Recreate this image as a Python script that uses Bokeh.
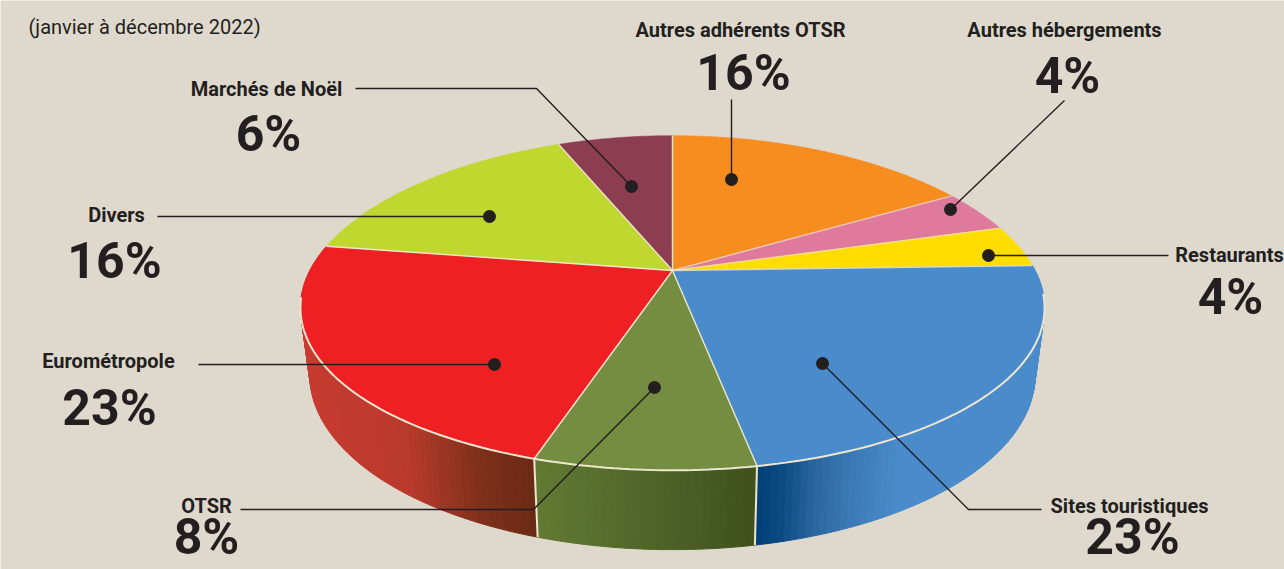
import numpy as np
from bokeh.plotting import figure
from bokeh.models import Range1d
from bokeh.core.properties import value
from bokeh.embed import file_html
from bokeh.resources import INLINE

# --- data
categories = ["Autres adhérents OTSR", "Autres hébergements", "Restaurants", "Sites touristiques",
              "OTSR", "Eurométropole", "Divers", "Marchés de Noël"]
shares = [16, 4, 4, 23, 8, 23, 16, 6]
top_colors = ["#f78d1e", "#df7a9c", "#ffdd00", "#4a8ccb", "#748d41", "#ee2024", "#c0d72f", "#8d3d52"]
subtitle = "(janvier à décembre 2022)"

# --- side wall gradient stops: (share of the slice's width, colour)
side_stops = {
    "Sites touristiques": [(0, "#003f75"), (0.1, "#0f4c84"), (0.2, "#2a659f"), (0.32, "#3a78b4"), (0.5, "#4a8ccb"), (1, "#4a8ccb")],
    "OTSR": [(0, "#627a33"), (0.5, "#506629"), (1, "#3f501c")],
    "Eurométropole": [(0, "#c83a30"), (0.45, "#b83a2c"), (0.75, "#80301a"), (1, "#6a2a14")],
}

# --- layout (page pixels of the picture)
W, H = 1284, 569
BG, INK, RIM = "#dfd9cd", "#231f20", "#efe6cf"
HUB = (672, 270)
A, B, K = 365, 161, 0.194
SHRINK, DROP, SAG = 0.975, 79, 5

label_pos = {
    "Autres adhérents OTSR": (740, 29, 743, 72),
    "Autres hébergements": (1064, 29, 1067, 75),
    "Restaurants": (1229, 254, 1230, 296),
    "Sites touristiques": (1129, 505, 1132, 536),
    "OTSR": (206, 505, 206, 536),
    "Eurométropole": (108, 360, 109, 407),
    "Divers": (116, 214, 114, 260),
    "Marchés de Noël": (266, 88, 268, 133),
}
leaders = {
    "Autres adhérents OTSR": [(731, 99), (731, 179)],
    "Autres hébergements": [(1064, 100), (950, 209)],
    "Restaurants": [(1168, 255), (988, 255)],
    "Sites touristiques": [(1041, 509), (968, 509), (822, 363)],
    "OTSR": [(240, 509), (533, 509), (654, 387)],
    "Eurométropole": [(198, 364), (494, 364)],
    "Divers": [(157, 216), (489, 216)],
    "Marchés de Noël": [(355, 88), (536, 88), (631, 186)],
}


def project(theta_deg):
    t = np.radians(theta_deg)
    u, v = np.sin(t), np.cos(t)
    w = 1 + K * v
    return HUB[0] + A * u / w, HUB[1] - B * v / w + SAG * u * u


def drop(x, y):
    return HUB[0] + SHRINK * (x - HUB[0]), y + DROP - (465 - y) * 0.08


def hex2rgb(c):
    return np.array([int(c[i:i + 2], 16) for i in (1, 3, 5)], float)


def grad(stops, f):
    fs = [s[0] for s in stops]
    rgb = np.array([hex2rgb(s[1]) for s in stops])
    c = [np.interp(f, fs, rgb[:, i]) for i in range(3)]
    return "#%02x%02x%02x" % tuple(int(round(x)) for x in c)


p = figure(width=W, height=H, output_backend="svg", toolbar_location=None,
           x_range=Range1d(0, W), y_range=Range1d(H, 0), min_border=0,
           background_fill_color=BG, border_fill_color=BG, outline_line_color=None)
p.xaxis.visible = False
p.yaxis.visible = False
p.xgrid.visible = False
p.ygrid.visible = False

edges = np.cumsum([0] + shares) * 3.6

# side walls
xs, ys, cols = [], [], []
for name, a0, a1 in zip(categories, edges[:-1], edges[1:]):
    if name not in side_stops:
        continue
    t = np.arange(a0, a1 + 0.001, 1.0)
    t = np.append(t, a1) if t[-1] < a1 else t
    span_x = [project(a)[0] for a in t]
    x_min, x_max = min(span_x), max(span_x)
    for a, b in zip(t[:-1], t[1:]):
        xa, ya = project(a)
        xb, yb = project(b)
        xa2, ya2 = drop(xa, ya)
        xb2, yb2 = drop(xb, yb)
        f = ((xa + xb) / 2 - x_min) / (x_max - x_min)
        c = grad(side_stops[name], f)
        xs.append([xa, xb, xb2, xa2])
        ys.append([ya, yb, yb2, ya2])
        cols.append(c)
p.patches(xs, ys, fill_color=cols, line_color=cols, line_width=1)

# seams on the side wall
for a in (edges[4], edges[5]):
    x, y = project(a)
    x2, y2 = drop(x, y)
    p.line([x, x2], [y, y2], line_color=RIM, line_width=2)

# top face
txs, tys = [], []
for a0, a1 in zip(edges[:-1], edges[1:]):
    t = np.arange(a0, a1 + 0.001, 0.5)
    pts = [project(a) for a in t] + [project(a1)]
    txs.append([HUB[0]] + [q[0] for q in pts])
    tys.append([HUB[1]] + [q[1] for q in pts])
p.patches(txs, tys, fill_color=top_colors, line_color=top_colors, line_width=0.5)

# separators and front rim
for a, alpha in zip(edges[:-1], [1, .7, .7, .8, 1, 1, 1, 1]):
    x, y = project(a)
    p.line([HUB[0], x], [HUB[1], y], line_color=RIM, line_width=1.4, line_alpha=alpha)
rim = [project(a) for a in np.arange(edges[3] + 10, 263, 1.0)]
p.line([q[0] for q in rim], [q[1] for q in rim], line_color=RIM, line_width=2)

# leaders
for name in categories:
    pts = leaders[name]
    p.line([q[0] for q in pts], [q[1] for q in pts], line_color=INK, line_width=1.4)
    p.scatter([pts[-1][0]], [pts[-1][1]], size=13, fill_color=INK, line_color=None)

# texts
FONT = value("Roboto")
for name, share in zip(categories, shares):
    lx, ly, nx, ny = label_pos[name]
    p.text([lx], [ly], text=[name], text_font=FONT, text_font_size="20px", text_font_style="bold",
           text_color=INK, text_align="center", text_baseline="middle")
    p.text([nx], [ny], text=[f"{share}%"], text_font=FONT, text_font_size="50px", text_font_style="bold",
           text_color=INK, text_align="center", text_baseline="middle")
p.text([28], [26], text=[subtitle], text_font=FONT, text_font_size="20px", text_color=INK,
       text_align="left", text_baseline="middle")

open("out.html", "w").write(file_html(p, INLINE))
